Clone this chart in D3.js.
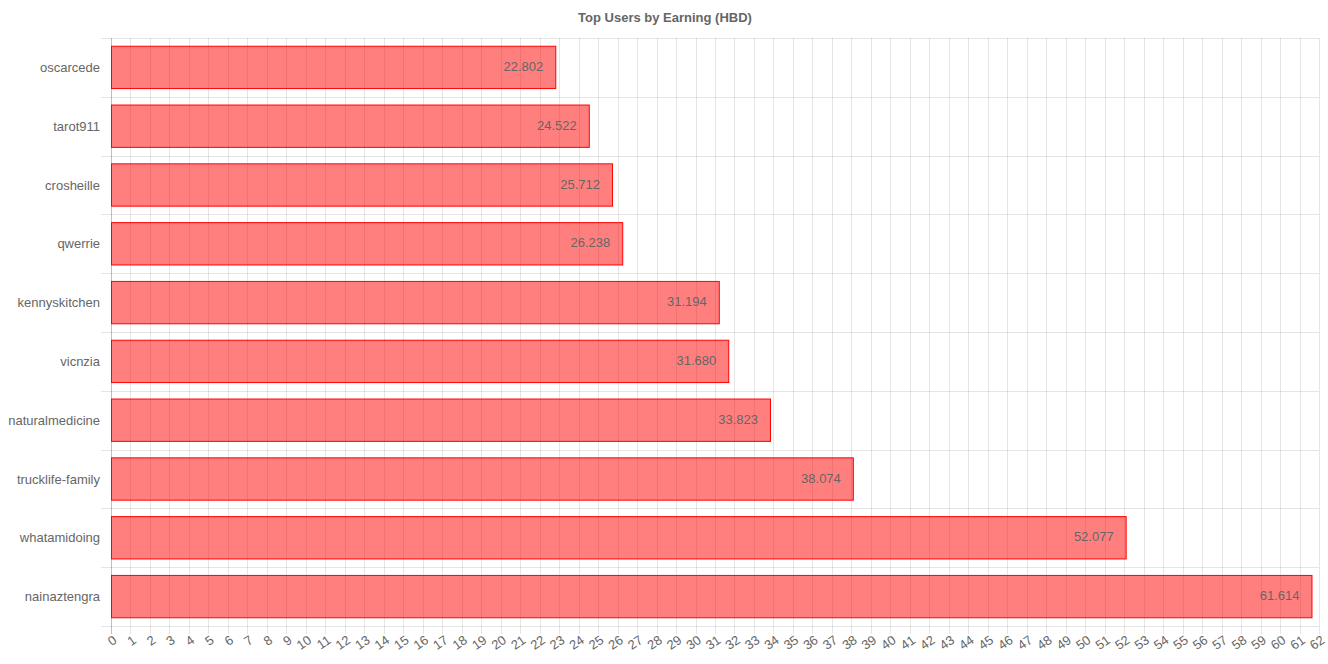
<!DOCTYPE html>
<html><head><meta charset="utf-8">
<script src="https://cdn.jsdelivr.net/npm/d3@7"></script>
<style>html,body{margin:0;padding:0;background:#fff;}svg{display:block;}</style>
</head><body>
<svg id="c" width="1328" height="664"></svg>
<script>
const users = ["oscarcede","tarot911","crosheille","qwerrie","kennyskitchen","vicnzia","naturalmedicine","trucklife-family","whatamidoing","nainaztengra"];
const earnings = [22.802,24.522,25.712,26.238,31.194,31.680,33.823,38.074,52.077,61.614];
const xTicks = d3.range(0,63);
const titleText = "Top Users by Earning (HBD)";

(function(){
const svg = d3.select("#c");
const font = "'Liberation Sans', Arial, Helvetica, sans-serif";
const fs = 13;
const pL = 111, pR = 1319, pT = 38, pB = 626;
const x = d3.scaleLinear().domain([0,62]).range([pL,pR]);
const y = d3.scaleBand().domain(users).range([pT,pB]).paddingInner(0).paddingOuter(0);

svg.append("text").attr("x",665).attr("y",22).attr("text-anchor","middle")
  .attr("font-family",font).attr("font-size",fs).attr("font-weight","bold").attr("fill","#666").text(titleText);

const g = svg.append("g");
g.selectAll("line.vg").data(xTicks).enter().append("line")
  .attr("x1",d=>Math.round(x(d))+0.5).attr("x2",d=>Math.round(x(d))+0.5).attr("y1",pT).attr("y2",pB+8)
  .attr("stroke",d=>d===0?"rgba(0,0,0,0.25)":"rgba(0,0,0,0.1)").attr("stroke-width",1);
const bounds = users.map(u=>y(u)).concat([pB]);
g.selectAll("line.hg").data(bounds).enter().append("line")
  .attr("x1",pL-10).attr("x2",pR).attr("y1",d=>Math.round(d)+0.5).attr("y2",d=>Math.round(d)+0.5)
  .attr("stroke","rgba(0,0,0,0.1)");

const bw = y.bandwidth()*0.72;
g.selectAll("rect.bar").data(users).enter().append("rect")
  .attr("x",pL+0.5).attr("y",(d)=>y(d)+(y.bandwidth()-bw)/2)
  .attr("width",(d,i)=>x(earnings[i])-pL).attr("height",bw)
  .attr("fill","rgba(255,0,0,0.5)").attr("stroke","#ff0000").attr("stroke-width",1);

g.selectAll("text.val").data(users).enter().append("text")
  .attr("x",(d,i)=>x(earnings[i])-12).attr("y",d=>y(d)+y.bandwidth()/2-1)
  .attr("dy","0.35em").attr("text-anchor","end")
  .attr("font-family",font).attr("font-size",fs).attr("fill","#666")
  .text((d,i)=>earnings[i].toFixed(3));

g.selectAll("text.yl").data(users).enter().append("text")
  .attr("x",pL-11).attr("y",d=>y(d)+y.bandwidth()/2).attr("dy","0.35em")
  .attr("text-anchor","end").attr("font-family",font).attr("font-size",fs).attr("fill","#666").text(d=>d);

g.selectAll("text.xl").data(xTicks).enter().append("text")
  .attr("transform",d=>`translate(${x(d)+1},${pB+8}) rotate(-35)`)
  .attr("text-anchor","end").attr("dy","0.75em")
  .attr("font-family",font).attr("font-size",fs).attr("fill","#666").text(d=>d);
})();
</script>
</body></html>
